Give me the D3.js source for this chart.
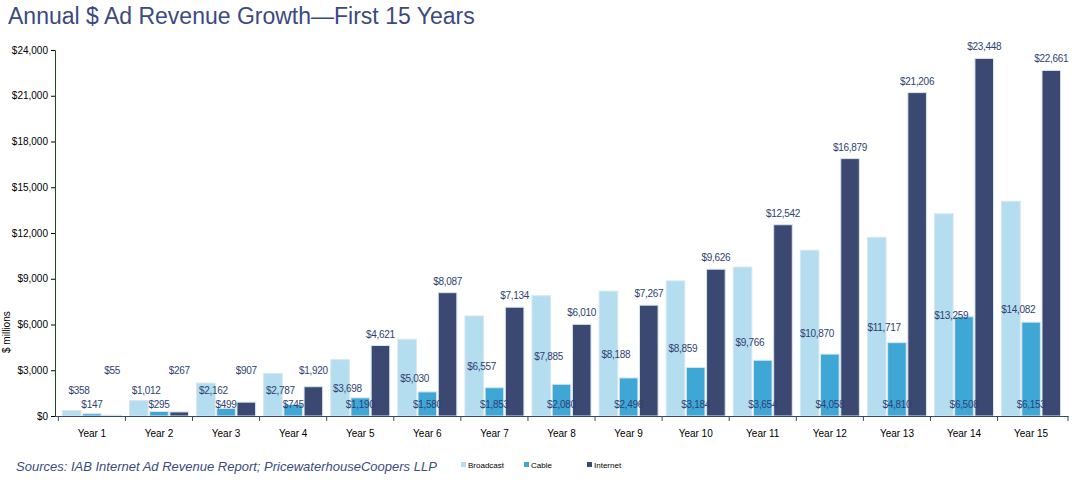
<!DOCTYPE html>
<html><head><meta charset="utf-8">
<script src="https://cdn.jsdelivr.net/npm/d3@7"></script>
<style>body{margin:0;background:#fff;font-family:Arial,"Liberation Sans",sans-serif}</style>
</head><body><div id="chart"></div>
<script>
var years = d3.range(1, 16).map(function(i){ return "Year " + i; });
var broadcast = [358,1012,2162,2787,3698,5030,6557,7885,8188,8859,9766,10870,11717,13259,14082];
var cable = [147,295,499,745,1190,1580,1853,2080,2496,3184,3654,4058,4810,6508,6153];
var internet = [55,267,907,1920,4621,8087,7134,6010,7267,9626,12542,16879,21206,23448,22661];
var series = ["Broadcast","Cable","Internet"];
var colors = ["#b4ddef","#3fa7d6","#3b4871"];
var yTicks = d3.range(0, 24001, 3000);

var width = 1072, height = 483,
    margin = {top: 50, right: 4, bottom: 67, left: 55};

var svg = d3.select("#chart").append("svg")
    .attr("width", width).attr("height", height);

svg.append("text").attr("x", 8).attr("y", 24)
    .attr("font-size", 23).attr("fill", "#3b4a80").attr("font-weight", 300)
    .text("Annual $ Ad Revenue Growth\u2014First 15 Years");

var x = d3.scaleBand().domain(years).range([margin.left, width - margin.right]).paddingInner(0).paddingOuter(0.05);
var xs = d3.scaleBand().domain(series).range([0, x.bandwidth()]).paddingInner(0.08).paddingOuter(0.2);
var y = d3.scaleLinear().domain([0, 24000]).range([height - margin.bottom, margin.top]);
var fmt = function(v){ return "$" + d3.format(",")(v); };

var data = years.map(function(yr, i){ return {year: yr, vals: [broadcast[i], cable[i], internet[i]]}; });

var g = svg.selectAll("g.grp").data(data).enter().append("g")
    .attr("transform", function(d){ return "translate(" + x(d.year) + ",0)"; });

g.selectAll("rect").data(function(d){ return d.vals; }).enter().append("rect")
    .attr("x", function(d, j){ return xs(series[j]); })
    .attr("width", xs.bandwidth())
    .attr("y", function(d){ return y(d); })
    .attr("height", function(d){ return y(0) - y(d); })
    .attr("fill", function(d, j){ return colors[j]; })
    .attr("stroke", "#d8e6ee").attr("stroke-width", 1);

// labels (positioned like the original, which overlaps its bars)
g.append("text").attr("text-anchor", "middle")
    .attr("x", xs("Broadcast") + xs.bandwidth() * 0.9)
    .attr("y", function(d){ return y(Math.max(d.vals[0] * 0.5, 1700)) + 4; })
    .text(function(d){ return fmt(d.vals[0]); });
g.append("text").attr("text-anchor", "middle")
    .attr("x", xs("Cable") + xs.bandwidth() / 2)
    .attr("y", y(800) + 4)
    .text(function(d){ return fmt(d.vals[1]); });
g.append("text").attr("text-anchor", "middle")
    .attr("x", xs("Internet") + xs.bandwidth() / 2)
    .attr("y", function(d){ return y(Math.max(d.vals[2], 2200)) - 8; })
    .text(function(d){ return fmt(d.vals[2]); });
g.selectAll("text").attr("font-size", 10).attr("fill", "#2f3f72").attr("letter-spacing", "-0.3");

var yAxis = svg.append("g").attr("transform", "translate(" + margin.left + ",0)")
    .call(d3.axisLeft(y).tickValues(yTicks).tickSize(4).tickFormat(function(v){ return "$" + d3.format(",")(v); }));
yAxis.select(".domain").attr("stroke", "#1d4d1d");
yAxis.selectAll("text").attr("font-size", 10).attr("fill", "#000").attr("font-family", "Arial");

var xAxis = svg.append("g").attr("transform", "translate(0," + y(0) + ")")
    .call(d3.axisBottom(x).tickSize(0).tickPadding(14));
xAxis.select(".domain").attr("stroke", "#3b4871");
xAxis.selectAll("text").attr("font-size", 10).attr("fill", "#000").attr("font-family", "Arial");
xAxis.selectAll(".sep").data(years.concat(["end"])).enter().append("line")
    .attr("x1", function(d){ return d === "end" ? width - margin.right : x(d); })
    .attr("x2", function(d){ return d === "end" ? width - margin.right : x(d); })
    .attr("y1", 0).attr("y2", 5).attr("stroke", "#3b4871");

svg.append("text").attr("transform", "translate(10," + y(5500) + ")rotate(-90)")
    .attr("text-anchor", "middle").attr("font-size", 10).text("$ millions");

svg.append("text").attr("x", 16).attr("y", 471).attr("font-size", 13)
    .attr("font-style", "italic").attr("fill", "#3b4a80")
    .text("Sources: IAB Internet Ad Revenue Report; PricewaterhouseCoopers LLP");

var lg = svg.selectAll("g.lg").data(series).enter().append("g")
    .attr("transform", function(d, i){ return "translate(" + (461 + i * 63) + ",462)"; });
lg.append("rect").attr("width", 5).attr("height", 5).attr("fill", function(d, i){ return colors[i]; });
lg.append("text").attr("x", 7).attr("y", 6).attr("font-size", 8).text(function(d){ return d; });
</script></body></html>
